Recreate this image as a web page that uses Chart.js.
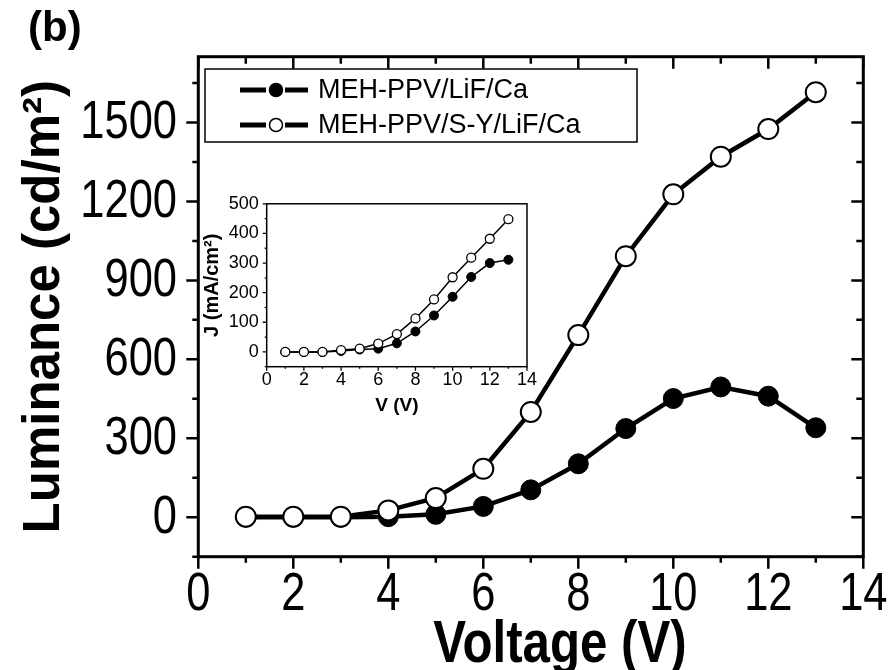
<!DOCTYPE html>
<html>
<head>
<meta charset="utf-8">
<script src="https://cdn.jsdelivr.net/npm/chart.js@4.4.1/dist/chart.umd.min.js"></script>
<style>
  html, body { margin: 0; padding: 0; background: #fff; }
  #wrap { position: relative; width: 894px; height: 670px; }
  #mainChart { position: absolute; left: 0; top: 0; }
  #insetChart { position: absolute; left: 190px; top: 185px; }
</style>
</head>
<body>
<div id="wrap">
  <canvas id="mainChart" width="894" height="670"></canvas>
  <canvas id="insetChart" width="350" height="240"></canvas>
</div>
<script>
// main panel: luminance vs voltage
const voltage = [1, 2, 3, 4, 5, 6, 7, 8, 9, 10, 11, 12, 13];
const lumLiF = [0, 0, 0, 2, 11, 41, 104, 203, 337, 451, 495, 460, 340];
const lumSY = [2, 2, 2, 26, 73, 184, 400, 692, 992, 1227, 1370, 1475, 1615];
const mainXTicks = [0, 2, 4, 6, 8, 10, 12, 14];
const mainYTicks = [0, 300, 600, 900, 1200, 1500];

// inset: current density vs voltage
const insetVoltage = [1, 2, 3, 4, 5, 6, 7, 8, 9, 10, 11, 12, 13];
const jLiF = [0, 0, 0, 3, 8, 11, 29, 69, 123, 186, 253, 300, 311];
const jSY = [0, 0, 0, 6, 11, 28, 60, 113, 177, 252, 318, 382, 448];
const insetXTicks = [0, 2, 4, 6, 8, 10, 12, 14];
const insetYTicks = [0, 100, 200, 300, 400, 500];

const seriesNames = ['MEH-PPV/LiF/Ca', 'MEH-PPV/S-Y/LiF/Ca'];

const SANS = '"Liberation Sans", Arial, sans-serif';
const SQUEEZE = 0.82; // the original figure's text is horizontally narrow

function toPoints(xs, ys) {
  return xs.map((x, i) => ({ x: x, y: ys[i] }));
}

function squeezedText(ctx, text, x, y, align) {
  ctx.save();
  ctx.translate(x, y);
  ctx.scale(SQUEEZE, 1);
  ctx.textAlign = align;
  ctx.fillText(text, 0, 0);
  ctx.restore();
}

// frame box plus major/minor ticks on all four sides
const frameTicks = {
  id: 'frameTicks',
  afterDraw(chart, args, o) {
    const { ctx, chartArea: a } = chart;
    const x = chart.scales.x, y = chart.scales.y;
    ctx.save();
    ctx.strokeStyle = '#000';
    ctx.lineWidth = o.tickWidth;
    ctx.beginPath();
    for (let v = x.min; v <= x.max + 1e-9; v += o.xStep) {
      const px = x.getPixelForValue(v);
      const major = o.xMajor.includes(v);
      const out = major ? o.outMajor : o.outMinor;
      const inn = major ? o.inMajor : o.inMinor;
      if (out) { ctx.moveTo(px, a.bottom); ctx.lineTo(px, a.bottom + out); }
      if (inn) { ctx.moveTo(px, a.top); ctx.lineTo(px, a.top + inn); }
    }
    for (let v = y.min; v <= y.max + 1e-9; v += o.yStep) {
      const py = y.getPixelForValue(v);
      const major = o.yMajor.includes(v);
      const out = major ? o.outMajor : o.outMinor;
      const inn = major ? o.inMajor : o.inMinor;
      if (out) { ctx.moveTo(a.left, py); ctx.lineTo(a.left - out, py); }
      if (inn) { ctx.moveTo(a.right, py); ctx.lineTo(a.right - inn, py); }
    }
    ctx.stroke();
    ctx.lineWidth = o.frameWidth;
    ctx.strokeRect(a.left, a.top, a.right - a.left, a.bottom - a.top);
    ctx.restore();
  }
};

// tick labels, panel letter, x title and legend box of the main panel
const mainDecor = {
  id: 'mainDecor',
  afterDraw(chart) {
    const ctx = chart.ctx;
    const xs = chart.scales.x, ys = chart.scales.y;
    ctx.save();
    ctx.fillStyle = '#000';
    ctx.strokeStyle = '#000';
    ctx.textBaseline = 'alphabetic';

    ctx.font = '53px ' + SANS;
    mainXTicks.forEach(v => {
      squeezedText(ctx, String(v), xs.getPixelForValue(v), 610, 'center');
    });
    mainYTicks.forEach(v => {
      squeezedText(ctx, String(v), 177, ys.getPixelForValue(v) + 16, 'right');
    });

    ctx.textAlign = 'left';
    ctx.font = 'bold 42px ' + SANS;
    ctx.fillText('(b)', 28, 41);

    ctx.font = 'bold 60px ' + SANS;
    squeezedText(ctx, 'Voltage (V)', 560, 662, 'center');

    ctx.lineWidth = 1.5;
    ctx.strokeRect(205, 69, 432, 73);
    const rows = [90, 125];
    const styles = [chart.data.datasets[1], chart.data.datasets[0]];
    ctx.textAlign = 'left';
    ctx.textBaseline = 'middle';
    ctx.font = '27px ' + SANS;
    rows.forEach((ry, i) => {
      const ds = styles[i];
      ctx.lineWidth = 5;
      ctx.beginPath();
      ctx.moveTo(240, ry);
      ctx.lineTo(266, ry);
      ctx.moveTo(285, ry);
      ctx.lineTo(308, ry);
      ctx.stroke();
      ctx.beginPath();
      ctx.arc(276, ry, 6.5, 0, Math.PI * 2);
      ctx.fillStyle = ds.pointBackgroundColor;
      ctx.fill();
      ctx.lineWidth = 1.5;
      ctx.stroke();
      ctx.fillStyle = '#000';
      ctx.fillText(seriesNames[i], 318, ry + 1);
    });
    ctx.restore();
  }
};

new Chart(document.getElementById('mainChart'), {
  type: 'line',
  data: {
    datasets: [
      {
        label: seriesNames[1],
        data: toPoints(voltage, lumSY),
        borderColor: '#000',
        borderWidth: 4.5,
        pointRadius: 10,
        pointBorderWidth: 2,
        pointBackgroundColor: '#fff',
        pointBorderColor: '#000',
        tension: 0
      },
      {
        label: seriesNames[0],
        data: toPoints(voltage, lumLiF),
        borderColor: '#000',
        borderWidth: 4.5,
        pointRadius: 10,
        pointBorderWidth: 1,
        pointBackgroundColor: '#000',
        pointBorderColor: '#000',
        tension: 0
      }
    ]
  },
  options: {
    responsive: false,
    animation: false,
    layout: { padding: { top: 56.7, right: 30.7, left: 0, bottom: 0 } },
    plugins: {
      legend: { display: false },
      tooltip: { enabled: false },
      frameTicks: {
        frameWidth: 3, tickWidth: 2.5, xStep: 1, yStep: 150,
        xMajor: mainXTicks, yMajor: mainYTicks,
        outMajor: 12, outMinor: 6, inMajor: 12, inMinor: 7
      }
    },
    scales: {
      x: {
        type: 'linear',
        min: 0,
        max: 14,
        grid: { display: false, drawTicks: false },
        border: { display: false },
        afterBuildTicks: s => { s.ticks = mainXTicks.map(v => ({ value: v })); },
        afterFit: s => { s.height = 113.3; },
        ticks: { display: false }
      },
      y: {
        min: -150,
        max: 1750,
        grid: { display: false, drawTicks: false },
        border: { display: false },
        afterBuildTicks: s => { s.ticks = mainYTicks.map(v => ({ value: v })); },
        afterFit: s => { s.width = 198.3; },
        ticks: { display: false },
        title: {
          display: true,
          text: 'Luminance (cd/m²)',
          color: '#000',
          padding: { top: 14, bottom: 0 },
          font: { family: SANS, size: 51, weight: 'bold' }
        }
      }
    }
  },
  plugins: [frameTicks, mainDecor]
});

new Chart(document.getElementById('insetChart'), {
  type: 'line',
  data: {
    datasets: [
      {
        label: seriesNames[1],
        data: toPoints(insetVoltage, jSY),
        borderColor: '#000',
        borderWidth: 1.5,
        pointRadius: 4.5,
        pointBorderWidth: 1.3,
        pointBackgroundColor: '#fff',
        pointBorderColor: '#000',
        tension: 0
      },
      {
        label: seriesNames[0],
        data: toPoints(insetVoltage, jLiF),
        borderColor: '#000',
        borderWidth: 1.5,
        pointRadius: 4.5,
        pointBorderWidth: 1,
        pointBackgroundColor: '#000',
        pointBorderColor: '#000',
        tension: 0
      }
    ]
  },
  options: {
    responsive: false,
    animation: false,
    layout: { padding: { top: 10.7, right: 10, left: 0, bottom: 0 } },
    plugins: {
      legend: { display: false },
      tooltip: { enabled: false },
      frameTicks: {
        frameWidth: 1.5, tickWidth: 1.3, xStep: 1, yStep: 50,
        xMajor: insetXTicks, yMajor: insetYTicks,
        outMajor: 4, outMinor: 2, inMajor: 0, inMinor: 0
      }
    },
    scales: {
      x: {
        type: 'linear',
        min: 0,
        max: 14,
        grid: { display: false, drawTicks: false },
        border: { display: false },
        afterBuildTicks: s => { s.ticks = insetXTicks.map(v => ({ value: v })); },
        afterFit: s => { s.height = 58.3; },
        ticks: {
          color: '#000',
          padding: 3,
          maxRotation: 0,
          autoSkip: false,
          callback: v => String(v),
          font: { family: SANS, size: 18 }
        },
        title: {
          display: true,
          text: 'V (V)',
          color: '#000',
          padding: { top: 0, bottom: 8 },
          font: { family: SANS, size: 19, weight: 'bold' }
        }
      },
      y: {
        min: -50,
        max: 500,
        grid: { display: false, drawTicks: false },
        border: { display: false },
        afterBuildTicks: s => { s.ticks = insetYTicks.map(v => ({ value: v })); },
        afterFit: s => { s.width = 76.7; },
        ticks: {
          color: '#000',
          padding: 8,
          autoSkip: false,
          callback: v => String(v),
          font: { family: SANS, size: 18 }
        },
        title: {
          display: true,
          text: 'J (mA/cm²)',
          color: '#000',
          padding: { top: 10, bottom: 0 },
          font: { family: SANS, size: 20, weight: 'bold' }
        }
      }
    }
  },
  plugins: [frameTicks]
});
</script>
</body>
</html>
